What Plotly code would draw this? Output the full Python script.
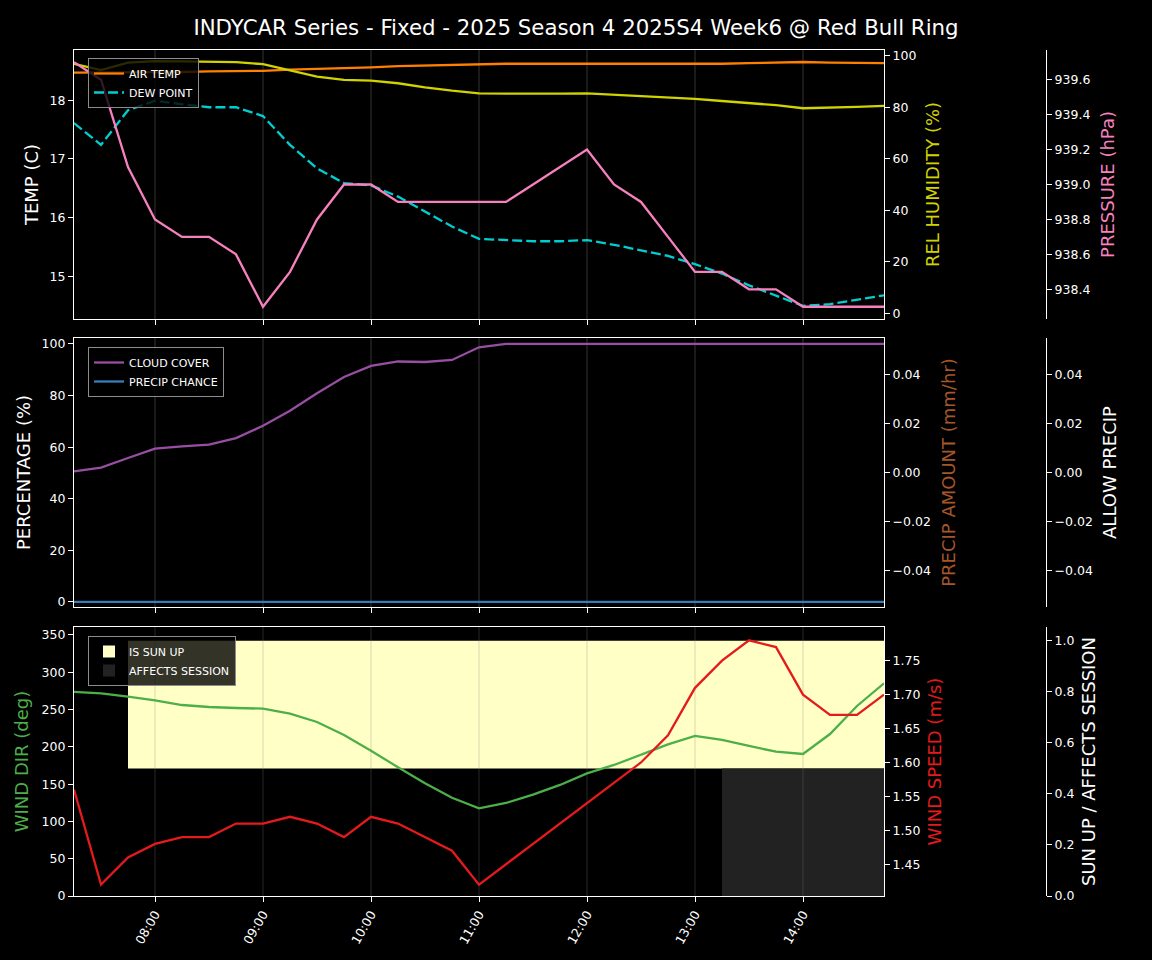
import plotly.graph_objects as go

# ---------------- data ----------------
times = ["07:15", "07:30", "07:45", "08:00", "08:15", "08:30", "08:45", "09:00",
         "09:15", "09:30", "09:45", "10:00", "10:15", "10:30", "10:45", "11:00",
         "11:15", "11:30", "11:45", "12:00", "12:15", "12:30", "12:45", "13:00",
         "13:15", "13:30", "13:45", "14:00", "14:15", "14:30", "14:45"]

air_temp = [18.47, 18.47, 18.47, 18.48, 18.48, 18.49, 18.49, 18.50, 18.52, 18.53, 18.55,
            18.56, 18.58, 18.59, 18.61, 18.62, 18.62, 18.62, 18.62, 18.61, 18.61, 18.61,
            18.61, 18.62, 18.62, 18.63, 18.64, 18.65, 18.64, 18.64, 18.63]
dew_point = [17.61, 17.24, 17.83, 17.99, 17.93, 17.88, 17.88, 17.73, 17.24, 16.84, 16.59,
             16.55, 16.36, 16.10, 15.85, 15.64, 15.62, 15.60, 15.60, 15.62, 15.54, 15.45,
             15.35, 15.21, 15.05, 14.85, 14.68, 14.50, 14.53, 14.60, 14.68]
rel_humidity = [96.8, 94.4, 97.3, 97.9, 97.8, 97.7, 97.5, 96.7, 94.2, 91.9, 90.6, 90.3,
                89.3, 87.7, 86.4, 85.4, 85.3, 85.2, 85.3, 85.4, 84.9, 84.4, 83.9, 83.2,
                82.4, 81.7, 80.8, 79.6, 79.8, 80.1, 80.5]
pressure = [939.7, 939.6, 939.1, 938.8, 938.7, 938.7, 938.6, 938.3, 938.5, 938.8, 939.0,
            939.0, 938.9, 938.9, 938.9, 938.9, 938.9, 939.0, 939.1, 939.2, 939.0, 938.9,
            938.7, 938.5, 938.5, 938.4, 938.4, 938.3, 938.3, 938.3, 938.3]

cloud_cover = [50.6, 52.1, 55.8, 59.4, 60.3, 61.0, 63.5, 68.3, 74.1, 80.9, 87.2, 91.5,
               93.2, 93.0, 93.8, 98.7, 100, 100, 100, 100, 100, 100, 100, 100, 100, 100,
               100, 100, 100, 100, 100]
precip_chance = [0, 0, 0, 0, 0, 0, 0, 0, 0, 0, 0, 0, 0, 0, 0, 0,
                 0, 0, 0, 0, 0, 0, 0, 0, 0, 0, 0, 0, 0, 0, 0]
precip_amount = [0, 0, 0, 0, 0, 0, 0, 0, 0, 0, 0, 0, 0, 0, 0, 0,
                 0, 0, 0, 0, 0, 0, 0, 0, 0, 0, 0, 0, 0, 0, 0]
allow_precip = [0, 0, 0, 0, 0, 0, 0, 0, 0, 0, 0, 0, 0, 0, 0, 0,
                0, 0, 0, 0, 0, 0, 0, 0, 0, 0, 0, 0, 0, 0, 0]

wind_dir = [273.6, 271.8, 267.3, 262.4, 256.1, 253.4, 252.1, 251.2, 244.5, 233.3, 215.9,
            194.9, 172.6, 151.1, 131.8, 117.6, 124.7, 135.9, 148.9, 164.5, 175.7, 190.0,
            203.4, 214.6, 209.2, 201.2, 193.5, 190.4, 217.2, 254.8, 285.2]
wind_speed = [1.56, 1.42, 1.46, 1.48, 1.49, 1.49, 1.51, 1.51, 1.52, 1.51, 1.49, 1.52,
              1.51, 1.49, 1.47, 1.42, 1.45, 1.48, 1.51, 1.54, 1.57, 1.60, 1.64, 1.71,
              1.75, 1.78, 1.77, 1.70, 1.67, 1.67, 1.70]
sun_up = [0, 0, 1, 1, 1, 1, 1, 1, 1, 1, 1, 1, 1, 1, 1, 1,
          1, 1, 1, 1, 1, 1, 1, 1, 1, 1, 1, 1, 1, 1, 1]
affects_session = [0, 0, 0, 0, 0, 0, 0, 0, 0, 0, 0, 0, 0, 0, 0, 0,
                   0, 0, 0, 0, 0, 0, 0, 0, 1, 1, 1, 1, 1, 1, 1]

tick_labels = ["08:00", "09:00", "10:00", "11:00", "12:00", "13:00", "14:00"]

DAY = "2025-06-01 "
x = [DAY + t for t in times]
tick_vals = [DAY + t for t in tick_labels]
x_range = [x[0], x[-1]]
STEP_MS = 15 * 60 * 1000

# ---------------- style ----------------
FONT = "DejaVu Sans"
WHITE = "#ffffff"
C_AIR = "#ff7f00"
C_DEW = "#00ced1"
C_HUM = "#d2d200"
C_PRES = "#f781bf"
C_CLOUD = "#984ea3"
C_PCHANCE = "#377eb8"
C_PAMT = "#a65628"
C_WDIR = "#4daf4a"
C_WSPD = "#e41a1c"
C_SUN = "#ffffc6"
C_SESSION = "#222222"
GRID = "rgba(128,128,128,0.2)"
LW = 2.3

fig = go.Figure()

# top panel
fig.add_trace(go.Scatter(x=x, y=air_temp, name="AIR TEMP", mode="lines",
                         line=dict(color=C_AIR, width=LW), xaxis="x", yaxis="y", legend="legend"))
fig.add_trace(go.Scatter(x=x, y=dew_point, name="DEW POINT", mode="lines",
                         line=dict(color=C_DEW, width=LW, dash="10px,4px"),
                         xaxis="x", yaxis="y", legend="legend"))
fig.add_trace(go.Scatter(x=x, y=rel_humidity, name="REL HUMIDITY", mode="lines",
                         line=dict(color=C_HUM, width=LW), xaxis="x", yaxis="y2", showlegend=False))
fig.add_trace(go.Scatter(x=x, y=pressure, name="PRESSURE", mode="lines",
                         line=dict(color=C_PRES, width=LW), xaxis="x", yaxis="y3", showlegend=False))

# middle panel
fig.add_trace(go.Scatter(x=x, y=cloud_cover, name="CLOUD COVER", mode="lines",
                         line=dict(color=C_CLOUD, width=LW), xaxis="x2", yaxis="y4", legend="legend2"))
fig.add_trace(go.Scatter(x=x, y=precip_chance, name="PRECIP CHANCE", mode="lines",
                         line=dict(color=C_PCHANCE, width=LW), xaxis="x2", yaxis="y4", legend="legend2"))
fig.add_trace(go.Bar(x=x, y=precip_amount, name="PRECIP AMOUNT", marker=dict(color=C_PAMT, line=dict(width=0)),
                     offset=0, width=STEP_MS, xaxis="x2", yaxis="y5", showlegend=False))
fig.add_trace(go.Bar(x=x, y=allow_precip, name="ALLOW PRECIP", marker=dict(color=WHITE, line=dict(width=0)),
                     offset=0, width=STEP_MS, xaxis="x2", yaxis="y6", showlegend=False))

# bottom panel
fig.add_trace(go.Bar(x=x, y=[0.5 * v for v in sun_up], base=0.5, name="IS SUN UP",
                     marker=dict(color=C_SUN, line=dict(width=0)), offset=0, width=STEP_MS,
                     xaxis="x3", yaxis="y7", legend="legend3"))
fig.add_trace(go.Bar(x=x, y=[0.5 * v for v in affects_session], base=0, name="AFFECTS SESSION",
                     marker=dict(color=C_SESSION, line=dict(width=0)), offset=0, width=STEP_MS,
                     xaxis="x3", yaxis="y7", legend="legend3"))
# vertical grid lines drawn above the shaded areas (as in the original)
gx, gy = [], []
for tv in tick_vals:
    gx += [tv, tv, None]
    gy += [0, 1.06, None]
fig.add_trace(go.Scatter(x=gx, y=gy, mode="lines", line=dict(color=GRID, width=1.5),
                         hoverinfo="skip", showlegend=False, xaxis="x3", yaxis="y7"))
fig.add_trace(go.Scatter(x=x, y=wind_dir, name="WIND DIR", mode="lines",
                         line=dict(color=C_WDIR, width=LW), xaxis="x3", yaxis="y8", showlegend=False))
fig.add_trace(go.Scatter(x=x, y=wind_speed, name="WIND SPEED", mode="lines",
                         line=dict(color=C_WSPD, width=LW), xaxis="x3", yaxis="y9", showlegend=False))

# ---------------- layout ----------------
W, H = 1152, 960
ML, MR, MT, MB = 74, 52, 50, 64
PW = W - ML - MR
PH = H - MT - MB
XD = [0, (884 - ML) / PW]
FREE_POS = (1046 - ML) / PW


def ydom(top_px, bot_px):
    return [(H - MB - bot_px) / PH, (H - MB - top_px) / PH]


D_TOP = ydom(50, 319)
D_MID = ydom(338, 607)
D_BOT = ydom(627, 896)

TICKF = dict(family=FONT, size=12.5, color=WHITE)
TITLEF = 18

common_y = dict(showgrid=False, zeroline=False, showline=True, linecolor=WHITE, linewidth=1.2,
                ticks="outside", ticklen=5, tickwidth=1.2, tickcolor=WHITE, tickfont=TICKF)
common_x = dict(type="date", range=x_range, domain=XD, tickvals=tick_vals, ticktext=tick_labels,
                showgrid=True, gridcolor=GRID, gridwidth=1.5, zeroline=False, showline=True,
                mirror=True, linecolor=WHITE, linewidth=1.2, ticks="outside", ticklen=5,
                tickwidth=1.2, tickcolor=WHITE, tickfont=TICKF)


def ttl(text, color=WHITE, standoff=8):
    return dict(text=text, font=dict(family=FONT, size=TITLEF, color=color), standoff=standoff)


fig.update_layout(
    width=W, height=H,
    margin=dict(l=ML, r=MR, t=MT, b=MB, autoexpand=False),
    paper_bgcolor="#000000", plot_bgcolor="#000000",
    font=dict(family=FONT, color=WHITE),
    barmode="overlay",
    title=dict(text="INDYCAR Series - Fixed - 2025 Season 4 2025S4 Week6 @ Red Bull Ring",
               x=0.5, xref="container", xanchor="center", y=1 - 28 / H, yref="container",
               yanchor="middle", font=dict(family=FONT, size=21.3, color=WHITE)),
    xaxis=dict(common_x, anchor="y", showticklabels=False),
    xaxis2=dict(common_x, anchor="y4", showticklabels=False),
    xaxis3=dict(common_x, anchor="y7", showticklabels=True, tickangle=-60, showgrid=False),
    yaxis=dict(common_y, domain=D_TOP, anchor="x", side="left", range=[14.277, 18.854],
               tickvals=[15, 16, 17, 18], title=ttl("TEMP (C)", WHITE, 6)),
    yaxis2=dict(common_y, overlaying="y", anchor="x", side="right", range=[-2.2, 102.2],
                tickvals=[0, 20, 40, 60, 80, 100], title=ttl("REL HUMIDITY (%)", C_HUM, 10)),
    yaxis3=dict(common_y, overlaying="y", anchor="free", position=FREE_POS, side="right",
                range=[938.23, 939.77], tickvals=[938.4, 938.6, 938.8, 939.0, 939.2, 939.4, 939.6],
                tickformat=".1f", title=ttl("PRESSURE (hPa)", C_PRES, 11)),
    yaxis4=dict(common_y, domain=D_MID, anchor="x2", side="left", range=[-1.95, 102.3],
                tickvals=[0, 20, 40, 60, 80, 100], title=ttl("PERCENTAGE (%)", WHITE, 6)),
    yaxis5=dict(common_y, overlaying="y4", anchor="x2", side="right", range=[-0.055, 0.055],
                tickvals=[-0.04, -0.02, 0, 0.02, 0.04], tickformat=".2f",
                title=ttl("PRECIP AMOUNT (mm/hr)", C_PAMT, 12)),
    yaxis6=dict(common_y, overlaying="y4", anchor="free", position=FREE_POS, side="right",
                range=[-0.055, 0.055], tickvals=[-0.04, -0.02, 0, 0.02, 0.04], tickformat=".2f",
                title=ttl("ALLOW PRECIP", WHITE, 11)),
    yaxis7=dict(common_y, domain=D_BOT, anchor="free", position=FREE_POS, side="right",
                range=[0, 1.054], tickvals=[0, 0.2, 0.4, 0.6, 0.8, 1.0], tickformat=".1f",
                title=ttl("SUN UP / AFFECTS SESSION", WHITE, 8)),
    yaxis8=dict(common_y, overlaying="y7", anchor="x3", side="left", range=[0, 360.7],
                tickvals=[0, 50, 100, 150, 200, 250, 300, 350], title=ttl("WIND DIR (deg)", C_WDIR, 8)),
    yaxis9=dict(common_y, overlaying="y7", anchor="x3", side="right", range=[1.4033, 1.7996],
                tickvals=[1.45, 1.50, 1.55, 1.60, 1.65, 1.70, 1.75], tickformat=".2f",
                title=ttl("WIND SPEED (m/s)", C_WSPD, 8)),
)

LEG = dict(bgcolor="rgba(0,0,0,0.8)", bordercolor="#8c8c8c", borderwidth=1,
           font=dict(family=FONT, size=11, color=WHITE), xanchor="left", yanchor="top",
           tracegroupgap=0, itemwidth=30)
fig.update_layout(
    legend=dict(LEG, x=(88 - ML) / PW, y=(H - MB - 58) / PH),
    legend2=dict(LEG, x=(88 - ML) / PW, y=(H - MB - 347) / PH),
    legend3=dict(LEG, x=(88 - ML) / PW, y=(H - MB - 636) / PH),
)

fig.write_html(
    "out.html",
    config={"displayModeBar": False},
    post_script="document.body.style.margin='0';document.body.style.padding='0';"
                "document.body.style.background='#000';",
)
